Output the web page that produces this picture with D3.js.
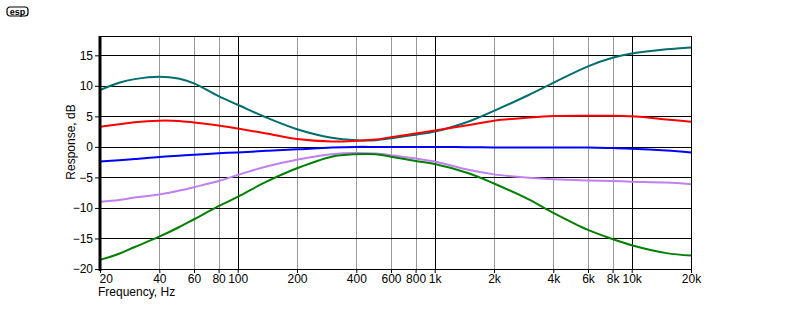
<!DOCTYPE html>
<html>
<head>
<meta charset="utf-8">
<script src="https://cdn.jsdelivr.net/npm/d3@7"></script>
<style>
    body { margin: 0; background: #fff; }
    svg { display: block; }
    text { font-family: "Liberation Sans", Arial, sans-serif; }
</style>
</head>
<body>
<script>
// ---------------------- DATA ----------------------
const freqs = [20, 25, 30, 40, 50, 60, 80, 100, 140, 200, 300, 400, 500, 600, 800,
    1000, 1500, 2000, 3000, 4000, 6000, 8000, 10000, 15000, 20000];

const teal = [9.3, 10.5, 11.1, 11.5, 11.2, 10.4, 8.3, 6.9, 4.8, 2.9, 1.5, 1.1, 1.1, 1.4, 2.0,
    2.5, 4.2, 5.9, 8.5, 10.5, 13.2, 14.6, 15.3, 16.0, 16.3];
const red = [3.3, 3.7, 4.05, 4.3, 4.25, 4.0, 3.5, 3.0, 2.2, 1.3, 0.9, 1.0, 1.2, 1.6, 2.2,
    2.7, 3.6, 4.3, 4.8, 5.05, 5.1, 5.1, 5.0, 4.5, 4.1];
const blue = [-2.4, -2.2, -2.0, -1.65, -1.45, -1.3, -1.05, -0.9, -0.65, -0.4, -0.1, 0, 0, 0, 0,
    0, -0.05, -0.1, -0.1, -0.1, -0.1, -0.2, -0.3, -0.6, -0.9];
const violet = [-9.0, -8.7, -8.3, -7.8, -7.2, -6.6, -5.6, -4.6, -3.2, -2.1, -1.2, -1.0, -1.1, -1.35, -1.9,
    -2.4, -3.8, -4.5, -5.05, -5.3, -5.5, -5.6, -5.7, -5.85, -6.1];
const green = [-18.5, -17.5, -16.4, -14.7, -13.2, -11.85, -9.7, -8.2, -5.7, -3.5, -1.6, -1.2, -1.2, -1.6, -2.3,
    -2.8, -4.35, -6.0, -8.6, -10.8, -13.6, -15.1, -16.1, -17.4, -17.8];

const xTicks = [20, 40, 60, 80, 100, 200, 400, 600, 800, 1000, 2000, 4000, 6000, 8000, 10000, 20000];
const xTickLabels = ["20", "40", "60", "80", "100", "200", "400", "600", "800", "1k",
    "2k", "4k", "6k", "8k", "10k", "20k"];
const xMajor = [100, 1000, 10000];
const yTicks = [-20, -15, -10, -5, 0, 5, 10, 15];

const series = [
    {name: "teal", values: teal, color: "#006e6e"},
    {name: "red", values: red, color: "#ff0000"},
    {name: "blue", values: blue, color: "#0000ff"},
    {name: "violet", values: violet, color: "#c080f0"},
    {name: "green", values: green, color: "#008000"}
];

// ---------------------- LAYOUT ----------------------
const width = 800, height = 325;
const plotLeft = 100, plotRight = 691, plotTop = 37, plotBottom = 269;

const x = d3.scaleLog().domain([20, 20000]).range([plotLeft, plotRight]);
const y = d3.scaleLinear().domain([-20, 18]).range([plotBottom, plotTop]);

const svg = d3.select("body").append("svg")
    .attr("width", width)
    .attr("height", height);

// esp logo in the corner
const logo = svg.append("g").attr("transform", "translate(7,7)");
logo.append("rect")
    .attr("width", 21).attr("height", 9).attr("rx", 3)
    .attr("fill", "none").attr("stroke", "#000").attr("stroke-width", 1.2);
logo.append("text")
    .attr("x", 10.5).attr("y", 7.5)
    .attr("text-anchor", "middle")
    .attr("font-size", 9).attr("font-weight", "bold")
    .text("esp");

// ---------------------- GRID ----------------------
const grid = svg.append("g");

// minor vertical lines (grey)
grid.selectAll(".vminor")
    .data(xTicks.filter(d => !xMajor.includes(d) && d !== 20 && d !== 20000))
    .join("line")
    .attr("x1", d => Math.round(x(d)) + 0.5).attr("x2", d => Math.round(x(d)) + 0.5)
    .attr("y1", plotTop).attr("y2", plotBottom)
    .attr("stroke", "#999");

// major vertical lines (black)
grid.selectAll(".vmajor")
    .data(xMajor)
    .join("line")
    .attr("x1", d => Math.round(x(d)) + 0.5).attr("x2", d => Math.round(x(d)) + 0.5)
    .attr("y1", plotTop).attr("y2", plotBottom)
    .attr("stroke", "#000");

// horizontal lines
grid.selectAll(".hline")
    .data(yTicks)
    .join("line")
    .attr("x1", plotLeft).attr("x2", plotRight)
    .attr("y1", d => Math.round(y(d)) + 0.5).attr("y2", d => Math.round(y(d)) + 0.5)
    .attr("stroke", "#000");

// frame: top and right thin, left thick
svg.append("line")
    .attr("x1", plotLeft).attr("x2", plotRight + 0.5)
    .attr("y1", plotTop - 0.5).attr("y2", plotTop - 0.5)
    .attr("stroke", "#000");
svg.append("line")
    .attr("x1", plotRight + 0.5).attr("x2", plotRight + 0.5)
    .attr("y1", plotTop - 1).attr("y2", plotBottom + 1)
    .attr("stroke", "#000");

// ---------------------- CURVES ----------------------
const line = d3.line()
    .x(d => x(d[0]))
    .y(d => y(d[1]))
    .curve(d3.curveCatmullRom.alpha(0.5));

svg.append("g")
    .selectAll("path")
    .data(series)
    .join("path")
    .attr("fill", "none")
    .attr("stroke", d => d.color)
    .attr("stroke-width", 2)
    .attr("d", d => line(freqs.map((f, i) => [f, d.values[i]])));

svg.append("line")
    .attr("x1", plotLeft).attr("x2", plotLeft)
    .attr("y1", plotTop - 1).attr("y2", plotBottom + 2)
    .attr("stroke", "#000").attr("stroke-width", 3);

// ---------------------- AXES ----------------------
const yAxis = svg.append("g")
    .attr("transform", `translate(${plotLeft - 1},0)`)
    .call(d3.axisLeft(y).tickValues(yTicks).tickSize(4).tickPadding(2).tickFormat(d3.format("d")));
yAxis.select(".domain").remove();
yAxis.selectAll("text").attr("font-size", 12).attr("fill", "#000").attr("font-family", null);
yAxis.selectAll("line").attr("stroke", "#000");

const xAxis = svg.append("g")
    .attr("transform", `translate(0,${plotBottom})`)
    .call(d3.axisBottom(x).tickValues(xTicks).tickSize(4).tickPadding(1)
        .tickFormat((d, i) => xTickLabels[i]));
xAxis.select(".domain").remove();
xAxis.selectAll("text").attr("font-size", 12).attr("fill", "#000").attr("font-family", null);
xAxis.selectAll("line").attr("stroke", "#000");
// first label sits to the right of its tick, clear of the y labels
xAxis.selectAll("text").filter(d => d === 20)
    .attr("text-anchor", "start").attr("dx", "-1");

// axis titles
svg.append("text")
    .attr("transform", "translate(75,142) rotate(-90)")
    .attr("text-anchor", "middle")
    .attr("font-size", 12)
    .text("Response, dB");

svg.append("text")
    .attr("x", 98).attr("y", 296)
    .attr("font-size", 12)
    .text("Frequency, Hz");
</script>
</body>
</html>
